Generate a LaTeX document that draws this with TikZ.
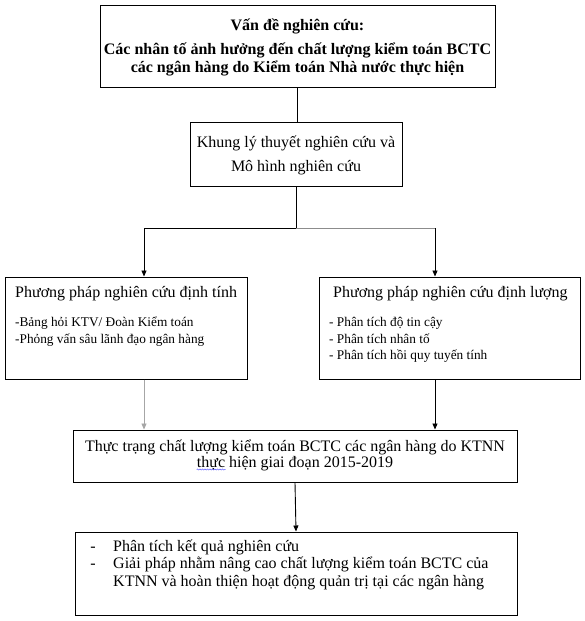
\documentclass[tikz,border=0pt]{standalone}
\usepackage{fontspec}
\setmainfont{Liberation Serif}
\usetikzlibrary{arrows.meta,decorations.pathmorphing}
\begin{document}
\begin{tikzpicture}[x=1pt,y=-1pt,
  box/.style={draw=black,line width=1pt,inner sep=0pt,fill=white},
  txt/.style={inner sep=0pt,anchor=base,font=\fontsize{16}{17}\selectfont},
  btxt/.style={txt,font=\bfseries\fontsize{16}{17}\selectfont},
  ltxt/.style={txt,anchor=base west},
  small/.style={inner sep=0pt,anchor=base west,font=\fontsize{13.3}{17}\selectfont},
  conn/.style={line width=0.9pt,draw=black},
  arr/.style={conn,-{Triangle[width=5pt,length=6pt]}}]
\useasboundingbox (0,0) rectangle (584,621);
\fill[white] (0,0) rectangle (584,621);
% boxes
\node[box,minimum width=395pt,minimum height=82pt] (b1) at (297.5,46) {};
\node[box,minimum width=212pt,minimum height=64pt] (b2) at (296,154) {};
\node[box,minimum width=242pt,minimum height=102pt] (b3) at (126,328) {};
\node[box,minimum width=261pt,minimum height=102pt] (b4) at (449.5,328) {};
\node[box,minimum width=444pt,minimum height=52pt] (b5) at (295,456) {};
\node[box,minimum width=442pt,minimum height=83pt] (b6) at (296,573.5) {};
% texts box 1
\node[btxt] (t1a) at (297.5,30) {Vấn đề nghiên cứu:};
\node[btxt] (t1b) at (297.5,54) {Các nhân tố ảnh hưởng đến chất lượng kiểm toán BCTC};
\node[btxt] (t1c) at (297.5,72) {các ngân hàng do Kiểm toán Nhà nước thực hiện};
% box 2
\node[txt] (t2a) at (296,147) {Khung lý thuyết nghiên cứu và};
\node[txt] (t2b) at (296,171) {Mô hình nghiên cứu};
% box 3
\node[ltxt] (t3) at (15,297) {Phương pháp nghiên cứu định tính};
\node[small] (t3a) at (15,326) {-Bảng hỏi KTV/ Đoàn Kiểm toán};
\node[small] (t3b) at (15,343) {-Phỏng vấn sâu lãnh đạo ngân hàng};
% box 4
\node[ltxt] (t4) at (333,297) {Phương pháp nghiên cứu định lượng};
\node[small] (t4a) at (329,326) {- Phân tích độ tin cậy};
\node[small] (t4b) at (329,343) {- Phân tích nhân tố};
\node[small] (t4c) at (329,359.5) {- Phân tích hồi quy tuyến tính};
% box 5
\node[txt] (t5a) at (295,451) {Thực trạng chất lượng kiểm toán BCTC các ngân hàng do KTNN};
\node[txt] (t5b) at (295,467) {thực hiện giai đoạn 2015-2019};
% box 6
\node[txt] (d1) at (93,551) {-};
\node[txt] (d2) at (93,568.5) {-};
\node[ltxt] (t6a) at (113,551) {Phân tích kết quả nghiên cứu};
\node[ltxt] (t6b) at (113,568.5) {Giải pháp nhằm nâng cao chất lượng kiểm toán BCTC của};
\node[ltxt] (t6c) at (113,586) {KTNN và hoàn thiện hoạt động quản trị tại các ngân hàng};
% spell-check underline
\coordinate (w1) at (t5b.base west);
\draw[blue!70!white,line width=0.5pt,decorate,decoration={snake,amplitude=0.6pt,segment length=2.5pt}]
  ([yshift=-2.5pt]t5b.base west) -- ++(29,0);
% connectors
\coordinate (j) at (b2.south |- 0,228);
\coordinate (jl) at (144,228);
\coordinate (jr) at (435,228);
\draw[conn] (b1.south -| 297,0) -- (b2.north -| 297,0);
\draw[conn] (b2.south) -- (j);
\draw[conn] (jl) -- (j);
\draw[conn,draw=black!45] (j) -- (jr);
\draw[arr] (jl) -- (jl |- b3.north);
\draw[arr] (jr) -- (jr |- b4.north);
\draw[arr,draw=black!35] (b3.south -| jl) -- (b5.north -| jl);
\draw[arr] (b4.south -| jr) -- (b5.north -| jr);
\draw[arr] (b5.south) -- (b6.north);
\end{tikzpicture}
\end{document}
